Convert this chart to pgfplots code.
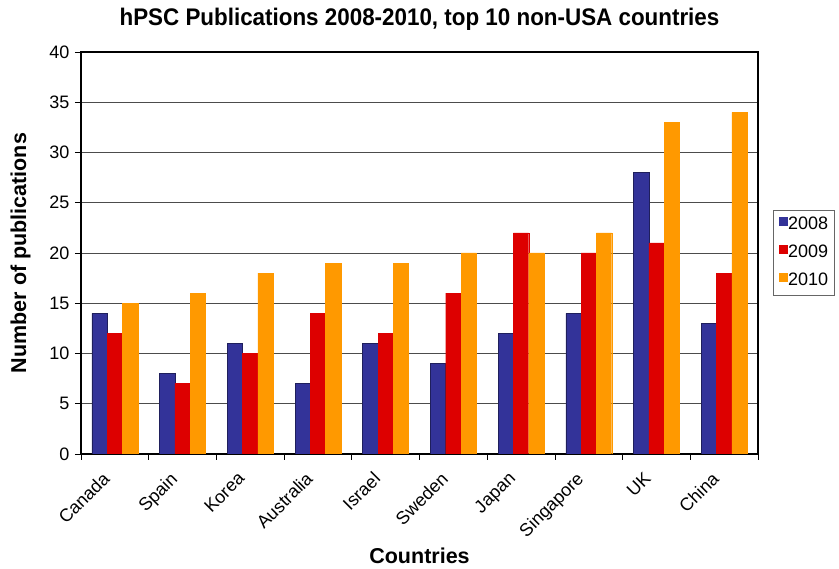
\documentclass[border=0pt]{standalone}
\usepackage{pgfplots}
\pgfplotsset{compat=1.18}
\usepackage{fontspec}
\setmainfont{Liberation Sans}

\definecolor{c2008}{HTML}{333399}
\definecolor{c2009}{HTML}{DD0000}
\definecolor{c2010}{HTML}{FF9900}

\begin{document}
\begin{tikzpicture}
\begin{axis}[
  at={(0,0)}, anchor=south west,
  scale only axis,
  width=677pt, height=402pt,
  ybar=0pt, bar width=15.3pt,
  xmin=-0.5, xmax=9.5,
  ymin=0, ymax=40,
  ytick={0,5,...,40},
  xtick={0,...,9},
  xticklabels={Canada,Spain,Korea,Australia,Israel,Sweden,Japan,Singapore,UK,China},
  major x tick style={draw=none},
  minor xtick={-0.5,0.5,...,9.5},
  tick align=outside,
  major tick length=6pt, minor tick length=6pt,
  xtick pos=bottom, ytick pos=left,
  tick style={black, line width=0.8pt},
  axis line style={black, line width=1.2pt},
  ymajorgrids,
  grid style={black!70, line width=0.8pt},
  /pgf/number format/assume math mode=true,
  ticklabel style={font=\fontsize{18}{20}\selectfont},
  yticklabel style={xshift=-2pt},
  xticklabel style={rotate=45, anchor=north east, inner sep=2pt, xshift=-15pt, yshift=4pt},
  title={\fontsize{24}{26}\selectfont\bfseries\scalebox{0.933}[1]{hPSC Publications 2008-2010, top 10 non-USA countries}},
  title style={at={(axis description cs:0.5,1)}, anchor=base, yshift=20pt},
  xlabel={\fontsize{21.5}{24}\selectfont\bfseries Countries},
  xlabel style={at={(axis description cs:0.5,0)}, anchor=base, yshift=-110pt},
  ylabel={\fontsize{21.5}{24}\selectfont\bfseries Number of publications},
  ylabel style={at={(axis description cs:-0.0812,0.5)}, anchor=base},
  legend style={at={(axis description cs:1.022,0.607)}, anchor=north west, draw=black!60,
    font=\fontsize{18}{20}\selectfont, row sep=11pt, inner sep=6pt,
    nodes={inner sep=0pt, text height=13pt, text depth=4pt}},
  legend image code/.code={\draw[#1, draw=none] (0pt,-1pt) rectangle (9pt,8pt);},
  legend cell align=left,
]
\addplot[fill=c2008, draw=c2008!60!black, line width=0.5pt] coordinates
  {(0,14)(1,8)(2,11)(3,7)(4,11)(5,9)(6,12)(7,14)(8,28)(9,13)};
\addplot[fill=c2009, draw=c2009, line width=0.3pt] coordinates
  {(0,12)(1,7)(2,10)(3,14)(4,12)(5,16)(6,22)(7,20)(8,21)(9,18)};
\addplot[fill=c2010, draw=c2010, line width=0.3pt] coordinates
  {(0,15)(1,16)(2,18)(3,19)(4,19)(5,20)(6,20)(7,22)(8,33)(9,34)};
\legend{2008,2009,2010}
\end{axis}
\pgfresetboundingbox
\path (-81pt,-115pt) rectangle (758pt,454pt);
\end{tikzpicture}
\end{document}
